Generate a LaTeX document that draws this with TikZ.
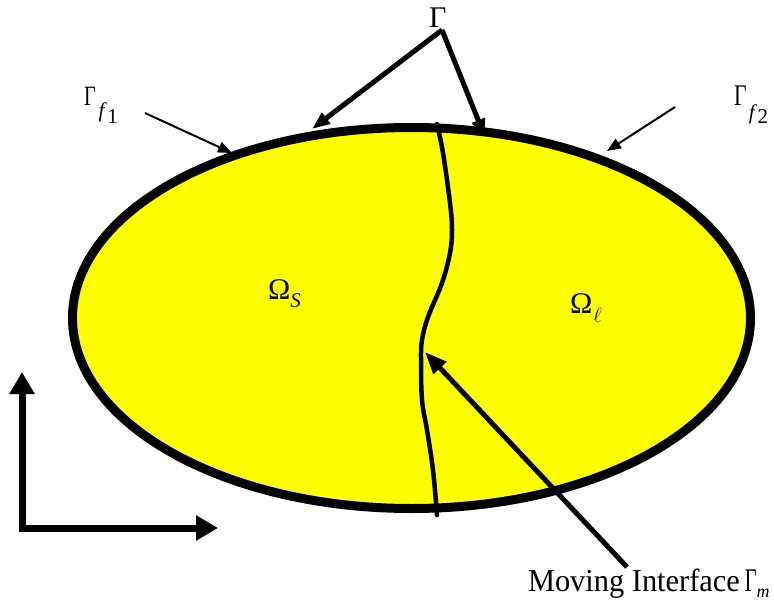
\documentclass[tikz,border=0pt]{standalone}
\usepackage{fontspec}
\setmainfont{Liberation Serif}
\usetikzlibrary{arrows.meta}
\definecolor{domyellow}{RGB}{255,255,0}
\newcommand\fsz[1]{\fontsize{#1}{#1}\selectfont}
\begin{document}
\begin{tikzpicture}[x=1pt,y=-1pt,
  lbl/.style={anchor=base west,inner sep=0pt,outer sep=0pt},
  thinarrow/.style={line width=2pt,-{Triangle[length=14pt,width=11pt]}},
  gamarrow/.style={line width=5pt,-{Triangle[length=18pt,width=13pt]}},
  movarrow/.style={line width=5pt,-{Triangle[length=22pt,width=17pt]}},
  axisline/.style={line width=7pt,line join=miter,{Triangle[length=22pt,width=24pt]}-{Triangle[length=22pt,width=24pt]}},
  boundary/.style={line width=9pt,draw=black,fill=domyellow},
  iface/.style={line width=4.5pt,line cap=round}]
\useasboundingbox (0,0) rectangle (774,602);
% domain
\draw[boundary] (411.5,318) ellipse [x radius=339, y radius=190.5];
% moving interface
\draw[iface] plot[smooth,tension=0.6] coordinates {(437,124) (443,153) (450,203) (452,230) (450,253) (442,283) (428,317) (422,340) (421,360) (422,400) (427,430) (433,470) (437,515)};
% labels
\node[lbl] (gam) at (429,28) {\fsz{30}Γ};
\node[lbl] (gf1) at (84,105) {{\fsz{28}\scalebox{0.72}[1]{Γ}}\hspace{3pt}\raisebox{-13pt}{\fsz{21}\textit{f}}\hspace{0.5pt}\raisebox{-18pt}{\fsz{21}1}};
\node[lbl] (gf2) at (734,105) {{\fsz{30}\scalebox{0.72}[1]{Γ}}\hspace{2.5pt}\raisebox{-14pt}{\fsz{21}\textit{f}}\hspace{0.5pt}\raisebox{-18pt}{\fsz{21}2}};
\node[lbl] (oms) at (268,299) {{\fsz{30}Ω}\raisebox{-8pt}{\fsz{21}\textit{S}}};
\node[lbl] (oml) at (570,313) {{\fsz{30}Ω}\hspace{1pt}\raisebox{-9pt}{\fsz{21}$\ell$}};
\node[lbl] (mov) at (528,591) {\scalebox{0.95}[1]{\fsz{32}Moving Interface}\hspace{5pt}{\fsz{33}\scalebox{0.62}[1]{Γ}}\raisebox{-6pt}{\fsz{18}\textit{m}}};
% connector end points
\coordinate (apex) at (442,30);
\coordinate (tipL) at (312,129);
\coordinate (tipR) at (485,137);
\coordinate (f1s) at (145,113);
\coordinate (f1t) at (232,153);
\coordinate (f2s) at (675,107);
\coordinate (f2t) at (607,151);
\coordinate (movs) at (627,567);
\coordinate (movt) at (425,352);
\coordinate (ax0) at (22,528);
\coordinate (axy) at (22,372);
\coordinate (axx) at (218,528);
% arrows
\draw[gamarrow] (apex) -- (tipL);
\draw[gamarrow] (apex) -- (tipR);
\draw[thinarrow] (f1s) -- (f1t);
\draw[thinarrow] (f2s) -- (f2t);
\draw[movarrow] (movs) -- (movt);
\draw[axisline] (axy) -- (ax0) -- (axx);
\end{tikzpicture}
\end{document}
